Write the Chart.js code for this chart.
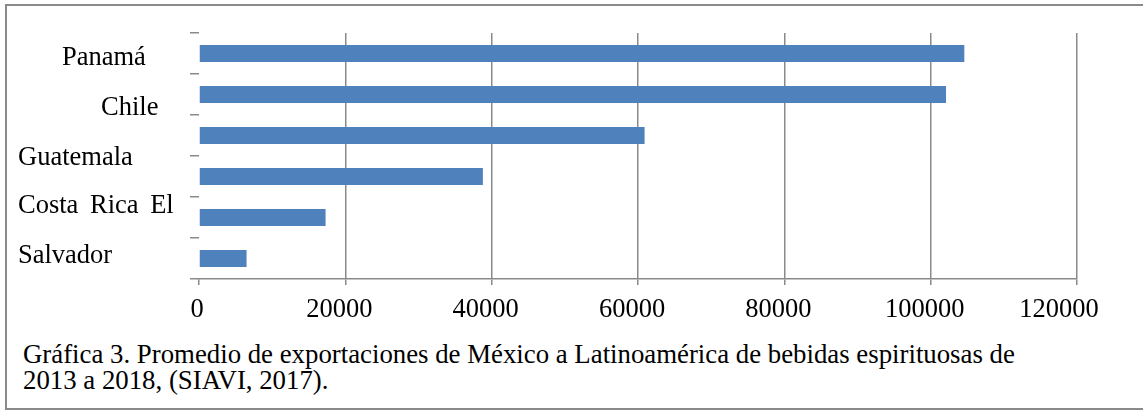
<!DOCTYPE html>
<html lang="es">
<head>
<meta charset="utf-8">
<title>Gráfica 3</title>
<script src="https://cdn.jsdelivr.net/npm/chart.js@4.4.1/dist/chart.umd.min.js"></script>
<style>
  html, body { margin: 0; padding: 0; background: #fff; }
  #page { position: relative; width: 1143px; height: 411px; overflow: hidden; background: #fff; }
  #frame {
    position: absolute; left: 5px; top: 4px; width: 1200px; height: 402px;
    border-top: 2px solid #8a8a8a; border-left: 2px solid #8a8a8a; border-bottom: 2px solid #8a8a8a;
  }
  #chartBox { position: absolute; left: 0; top: 0; width: 1143px; height: 330px; }
  #caption {
    position: absolute; left: 23px; top: 341px;
    font-family: "Liberation Serif", "Times New Roman", serif; font-size: 26.8px; line-height: 26px;
    color: #000; white-space: nowrap;
  }
</style>
</head>
<body>
<div id="page">
  <div id="frame"></div>
  <div id="chartBox"><canvas id="chart"></canvas></div>
  <div id="caption"></div>
</div>
<script>
// Average exports of spirits from Mexico to Latin America, 2013–2018
const countries = ["Panamá", "Chile", "Guatemala", "Costa Rica", "El Salvador", ""];
const exportValues = [104600, 102100, 60900, 38800, 17300, 6500];
const xTicks = [0, 20000, 40000, 60000, 80000, 100000, 120000];
const labelLines = ["Panamá", "Chile", "Guatemala", "Costa Rica El", "Salvador"];
const captionLines = [
  "Gráfica 3. Promedio de exportaciones de México a Latinoamérica de bebidas espirituosas de",
  "2013 a 2018, (SIAVI, 2017)."
];

const SERIF = '"Liberation Serif", "Times New Roman", serif';
const GRID = '#8a8a8a';

// label block placement (left x, baseline y)
const labelPlacement = [[62, 65], [101, 115], [18, 165], [18, 213], [18, 263]];
// horizontal nudge of each axis number relative to its gridline
const tickNudge = [-2, -6, -6, -6, -6, -6, -18];

document.getElementById('caption').innerHTML =
  captionLines.map(s => s.replace(/&/g, '&amp;').replace(/</g, '&lt;')).join('<br>');

const textLayer = {
  id: 'textLayer',
  afterDraw(chart) {
    const ctx = chart.ctx;
    const xs = chart.scales.x;
    ctx.save();
    ctx.fillStyle = '#000';
    ctx.font = '26.5px ' + SERIF;
    ctx.textBaseline = 'alphabetic';

    // category text block on the left
    ctx.textAlign = 'left';
    labelLines.forEach((txt, i) => {
      const [x, y] = labelPlacement[i];
      if ('wordSpacing' in ctx) ctx.wordSpacing = txt.indexOf(' ') > 0 ? '5px' : '0px';
      ctx.fillText(txt, x, y);
    });
    if ('wordSpacing' in ctx) ctx.wordSpacing = '0px';

    // value axis numbers
    ctx.textAlign = 'center';
    const baseline = xs.bottom - 51 + 38;
    xTicks.forEach((v, i) => {
      ctx.fillText(String(v), xs.getPixelForValue(v) + tickNudge[i], baseline);
    });
    ctx.restore();
  }
};

new Chart(document.getElementById('chart'), {
  type: 'bar',
  data: {
    labels: countries,
    datasets: [{
      data: exportValues,
      backgroundColor: '#4f81bd',
      borderWidth: 0,
      barPercentage: 0.41,
      categoryPercentage: 1
    }]
  },
  options: {
    indexAxis: 'y',
    responsive: true,
    maintainAspectRatio: false,
    animation: false,
    layout: { padding: { top: 33, right: 66, left: 0, bottom: 0 } },
    plugins: { legend: { display: false }, tooltip: { enabled: false } },
    scales: {
      x: {
        min: xTicks[0],
        max: xTicks[xTicks.length - 1],
        afterBuildTicks(scale) { scale.ticks = xTicks.map(v => ({ value: v })); },
        afterFit(scale) { scale.height = 51; },
        grid: {
          color: c => (c.tick && c.tick.value === 0) ? 'rgba(0,0,0,0)' : GRID,
          tickColor: GRID,
          lineWidth: 1.5,
          tickLength: 6
        },
        border: { display: true, color: GRID, width: 1.5 },
        ticks: { display: false }
      },
      y: {
        type: 'category',
        offset: true,
        afterFit(scale) { scale.width = 199; },
        grid: {
          drawOnChartArea: false,
          color: GRID,
          lineWidth: 1.5,
          tickLength: 9,
          offset: true
        },
        border: { display: false },
        ticks: { display: false }
      }
    }
  },
  plugins: [textLayer]
});
</script>
</body>
</html>
